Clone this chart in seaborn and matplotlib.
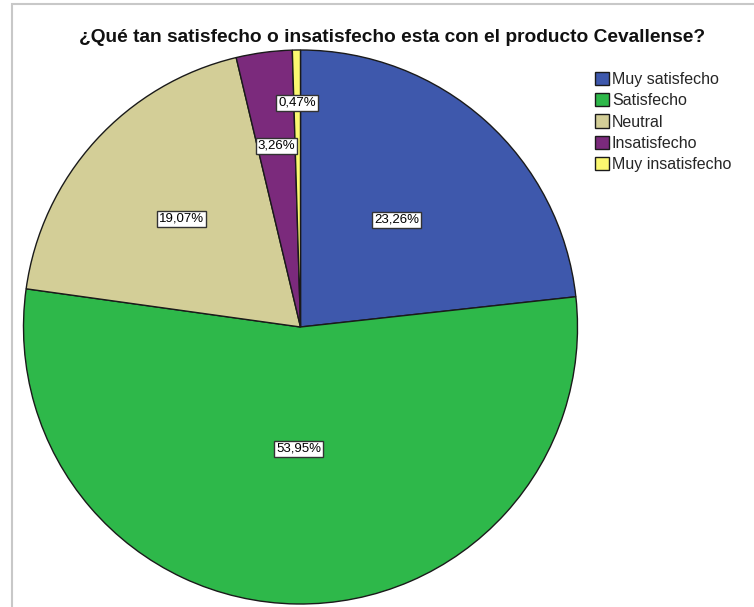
import numpy as np
import matplotlib
matplotlib.use("Agg")
import matplotlib.pyplot as plt
import seaborn as sns
from matplotlib.patches import Rectangle

# datos del grafico
categorias = ["Muy satisfecho", "Satisfecho", "Neutral", "Insatisfecho", "Muy insatisfecho"]
porcentajes = [23.26, 53.95, 19.07, 3.26, 0.47]
colores = ["#3e58ac", "#2eb84a", "#d3ce97", "#7b2a7c", "#fbf870"]
titulo = "¿Qué tan satisfecho o insatisfecho esta con el producto Cevallense?"
# distancia de cada etiqueta desde el centro (fraccion del radio)
dist_etiquetas = [0.52, 0.44, 0.58, 0.66, 0.81]

sns.set_theme(style="white")
plt.rcParams['font.family'] = ['Liberation Sans', 'DejaVu Sans']

fig = plt.figure(figsize=(7.54, 6.07), dpi=100)
W, H = 754, 607

# marco gris del visor
fig.patches.append(Rectangle((12 / W, -0.1), 1.0, (607 - 4) / H + 0.1,
                             transform=fig.transFigure, fill=False,
                             edgecolor="#c8c8c8", linewidth=1.5))

cx, cy, r = 300.5, 327, 277
ax = fig.add_axes([(cx - r) / W, (H - cy - r) / H, 2 * r / W, 2 * r / H])
wedges, _ = ax.pie(porcentajes, colors=sns.color_palette(colores), startangle=90,
                   counterclock=False, radius=1,
                   wedgeprops=dict(edgecolor="#1a1a1a", linewidth=1.0))
ax.set_xlim(-1, 1)
ax.set_ylim(-1, 1)
ax.set_aspect("equal")
ax.axis("off")

for w, p, d in zip(wedges, porcentajes, dist_etiquetas):
    ang = np.deg2rad((w.theta1 + w.theta2) / 2)
    ax.text(d * np.cos(ang), d * np.sin(ang), f"{p:.2f}%".replace(".", ","),
            ha="center", va="center", fontsize=9.5, color="black",
            bbox=dict(boxstyle="square,pad=0.15", facecolor="white",
                      edgecolor="#333333", linewidth=1.0))

fig.text(392 / W, 1 - 38 / H, titulo, ha="center", va="center",
         fontsize=13.8, fontweight="bold", color="#111111")

fig.legend(wedges, categorias, loc="upper left", bbox_to_anchor=(595 / W, 1 - 72 / H),
           frameon=False, fontsize=11.5, handlelength=0.9, handleheight=0.9,
           handletextpad=0.15, labelspacing=0.38, borderpad=0, borderaxespad=0)

fig.savefig("out.png", dpi=100)
